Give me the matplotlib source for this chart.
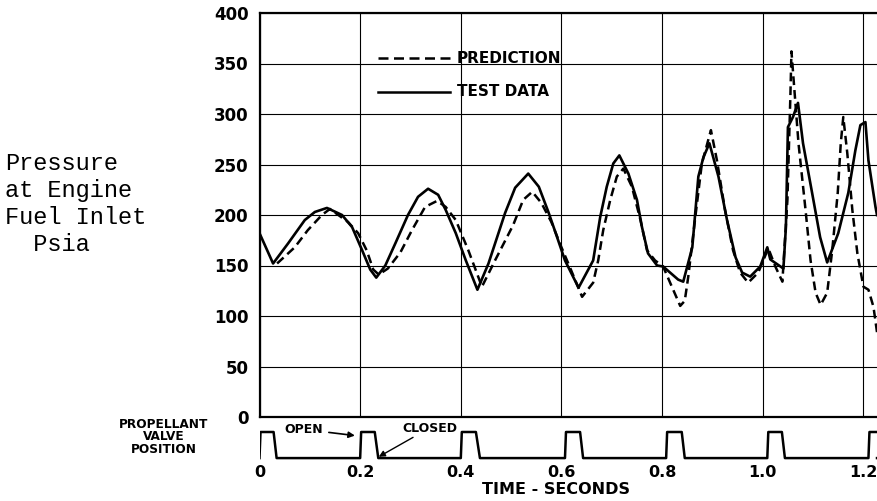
import matplotlib.pyplot as plt
import numpy as np

# test data (solid curve), time in seconds / pressure in psia
test_t = [0.0, 0.027, 0.057, 0.09, 0.11, 0.134, 0.164, 0.184, 0.204, 0.22, 0.232,
          0.25, 0.27, 0.295, 0.315, 0.335, 0.355, 0.37, 0.39, 0.41, 0.433,
          0.455, 0.488, 0.508, 0.534, 0.555, 0.574, 0.59, 0.607, 0.634,
          0.663, 0.677, 0.69, 0.703, 0.715, 0.733, 0.75, 0.76, 0.772, 0.79, 0.802,
          0.832, 0.842, 0.86, 0.872, 0.882, 0.894, 0.912, 0.929, 0.946, 0.959, 0.975,
          0.995, 1.009, 1.015, 1.041, 1.046, 1.05, 1.06, 1.07, 1.08, 1.098, 1.114,
          1.128, 1.15, 1.17, 1.184, 1.194, 1.204, 1.21, 1.224, 1.227]
test_p = [182, 152, 172, 195, 203, 207, 200, 188, 165, 146, 138,
          150, 172, 200, 218, 226, 220, 205, 182, 155, 126,
          152, 202, 227, 241, 228, 203, 180, 155, 128,
          155, 198, 228, 251, 259, 241, 215, 188, 162, 150, 149,
          136, 134, 168, 238, 257, 271, 238, 195, 158, 143, 139,
          149, 168, 156, 147, 188, 287, 297, 311, 271, 222, 178,
          153, 182, 222, 264, 289, 292, 254, 208, 200]

# prediction (dashed curve)
pred_t = [0.035, 0.07, 0.096, 0.124, 0.14, 0.176, 0.196, 0.213, 0.226, 0.237,
          0.255, 0.28, 0.303, 0.329, 0.353, 0.37, 0.39, 0.415, 0.442,
          0.468, 0.504, 0.524, 0.542, 0.56, 0.58, 0.6, 0.617, 0.641,
          0.663, 0.673, 0.683, 0.697, 0.71, 0.723, 0.74, 0.757, 0.77, 0.786, 0.802,
          0.822, 0.836, 0.845, 0.852, 0.866, 0.879, 0.897, 0.909, 0.925, 0.941,
          0.955, 0.971, 0.991, 1.011, 1.025, 1.039, 1.049, 1.055, 1.057, 1.071,
          1.085, 1.095, 1.105, 1.115, 1.128, 1.138, 1.149, 1.155, 1.16, 1.168,
          1.178, 1.188, 1.2, 1.21, 1.22, 1.227]
pred_p = [152, 168, 185, 200, 206, 193, 182, 165, 146, 141,
          147, 163, 185, 208, 214, 208, 195, 165, 129,
          155, 190, 215, 223, 212, 193, 168, 148, 119,
          133, 155, 185, 215, 238, 246, 228, 195, 165, 155, 149,
          126, 110, 115, 139, 198, 251, 284, 254, 205, 165,
          143, 133, 143, 167, 149, 134, 215, 320, 362, 271,
          205, 155, 123, 111, 123, 165, 222, 271, 297, 261,
          205, 162, 129, 126, 109, 84]

# propellant valve: open time, start of closing, fully closed
valve_open = [0.0, 0.2, 0.4, 0.607, 0.808, 1.009, 1.21]
valve_closing = [0.028, 0.229, 0.43, 0.637, 0.839, 1.038, 1.24]
valve_shut = [0.034, 0.236, 0.438, 0.643, 0.845, 1.044, 1.246]

y_ticks = [0, 50, 100, 150, 200, 250, 300, 350, 400]
x_ticks = [0, 0.2, 0.4, 0.6, 0.8, 1.0, 1.2]
x_labels = ['0', '0.2', '0.4', '0.6', '0.8', '1.0', '1.2']

W, H = 877, 501
fig = plt.figure(figsize=(W / 100, H / 100), dpi=100)
xmax = 1.227
left = 259.5 / W

# main pressure plot
ax = fig.add_axes([left, 1 - 417 / H, 1 - left, (417 - 13) / H])
ax.set_xlim(0, xmax)
ax.set_ylim(0, 400)
ax.set_yticks(y_ticks)
ax.set_xticks(x_ticks)
ax.set_xticklabels([])
ax.tick_params(length=0, pad=8)
for lab in ax.get_yticklabels():
    lab.set_fontweight('bold')
    lab.set_fontsize(12)
ax.grid(True, color='black', linewidth=0.8)
ax.spines['right'].set_visible(False)
for s in ['left', 'top', 'bottom']:
    ax.spines[s].set_linewidth(1.6)

ax.plot(test_t, test_p, color='black', lw=1.9, solid_joinstyle='round')
ax.plot(pred_t, pred_p, color='black', lw=1.8, dashes=(3.5, 2))

# legend drawn by hand
ax.plot([0.236, 0.379], [355, 355], color='black', lw=1.8, dashes=(4, 2.2))
ax.plot([0.236, 0.379], [322, 322], color='black', lw=1.8)
ax.text(0.392, 355, 'PREDICTION', fontsize=11, fontweight='bold', va='center')
ax.text(0.392, 322, 'TEST DATA', fontsize=11, fontweight='bold', va='center')

# valve position strip
ax2 = fig.add_axes([left, 1 - 462 / H, 1 - left, 42 / H])
ax2.set_xlim(0, xmax)
ax2.set_ylim(-0.15, 1.46)
vx = [0.0]
vy = [0.0]
for o, c, s in zip(valve_open, valve_closing, valve_shut):
    vx += [o, o + 0.002, c, s]
    vy += [0, 1, 1, 0]
vx.append(xmax)
vy.append(0)
ax2.plot(vx, vy, color='black', lw=1.8)
for s in ax2.spines.values():
    s.set_visible(False)
ax2.set_yticks([])
ax2.set_xticks(x_ticks)
ax2.set_xticklabels(x_labels, fontsize=11.5, fontweight='bold')
ax2.tick_params(length=0, pad=2)

ax2.annotate('OPEN', xy=(0.195, 0.85), xytext=(0.05, 1.1), fontsize=9,
             fontweight='bold', va='center',
             arrowprops=dict(arrowstyle='-|>', color='black', lw=1.2))
ax2.annotate('CLOSED', xy=(0.237, 0.05), xytext=(0.283, 1.15), fontsize=9,
             fontweight='bold', va='center',
             arrowprops=dict(arrowstyle='-|>', color='black', lw=1.0,
                             shrinkA=0, shrinkB=0))

fig.text(164 / W, 1 - 437 / H, 'PROPELLANT\nVALVE\nPOSITION', ha='center',
         va='center', fontsize=8.7, fontweight='bold', linespacing=0.95)
fig.text(556 / W, 1 - 490 / H, 'TIME - SECONDS', ha='center', va='center',
         fontsize=11.5, fontweight='bold')

fig.text(5 / W, 1 - 204 / H, 'Pressure\nat Engine\nFuel Inlet\n  Psia',
         family='Liberation Mono', fontsize=17, va='center', ha='left',
         linespacing=1.22)

fig.savefig('out.png', dpi=100)
